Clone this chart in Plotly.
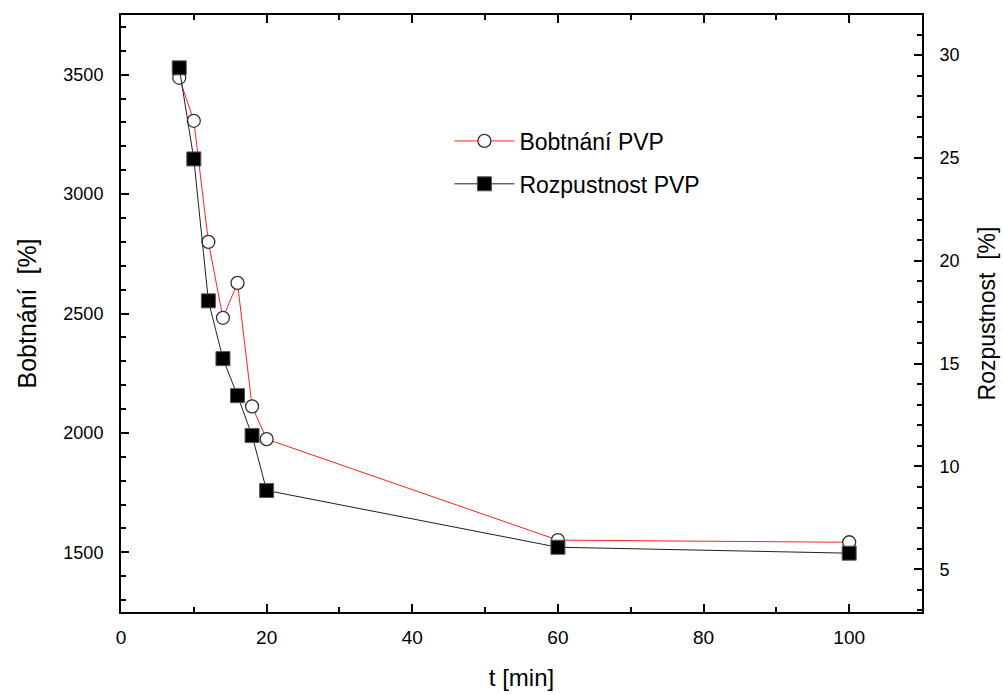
import plotly.graph_objects as go

t_min = [8, 10, 12, 14, 16, 18, 20, 60, 100]
bobtnani = [3487, 3307, 2800, 2482, 2628, 2111, 1974, 1551, 1542]
rozpustnost = [29.38, 24.95, 18.05, 15.24, 13.44, 11.5, 8.83, 6.07, 5.78]

x_ticks = [0, 20, 40, 60, 80, 100]
y_ticks = [1500, 2000, 2500, 3000, 3500]
y2_ticks = [5, 10, 15, 20, 25, 30]

FONT = "Arial, Liberation Sans, sans-serif"
NARROW = "Liberation Sans Narrow, Arial Narrow, Arial, sans-serif"

fig = go.Figure()
fig.add_trace(go.Scatter(
    x=t_min, y=bobtnani, name="Bobtnání PVP", mode="lines+markers",
    legendgroup="a",
    line=dict(color="#ff2020", width=1),
    marker=dict(symbol="circle", size=13, color="white",
                line=dict(color="#333333", width=1.3)),
    yaxis="y"))
fig.add_trace(go.Scatter(
    x=t_min, y=rozpustnost, name="Rozpustnost PVP", mode="lines+markers",
    legendgroup="b",
    line=dict(color="#222222", width=1),
    marker=dict(symbol="square", size=14, color="black",
                line=dict(color="#555555", width=1)),
    yaxis="y2"))

axis_common = dict(showline=True, linecolor="black", linewidth=2,
                   ticks="inside", tickcolor="black", tickwidth=2, ticklen=8,
                   showgrid=False, zeroline=False, automargin=False)

fig.update_layout(
    width=1003, height=695,
    margin=dict(l=121, r=81, t=15, b=83),
    paper_bgcolor="white", plot_bgcolor="white",
    showlegend=True,
    legend=dict(x=0.41, y=0.825, xanchor="left", yanchor="top",
                font=dict(family=FONT, size=23, color="black"),
                bgcolor="rgba(0,0,0,0)", itemwidth=60, tracegroupgap=10),
    xaxis=dict(range=[0, 110], tickvals=x_ticks, mirror="ticks",
               minor=dict(dtick=10, ticks="inside", ticklen=5, tickwidth=2, tickcolor="black"),
               tickfont=dict(family=NARROW, size=19, color="black"),
               ticklabelstandoff=7,
               title=dict(text="t [min]", font=dict(family=NARROW, size=24, color="black"),
                          standoff=22),
               **axis_common),
    yaxis=dict(range=[1250, 3750], tickvals=y_ticks,
               minor=dict(dtick=100, ticks="inside", ticklen=5, tickwidth=2, tickcolor="black"),
               tickfont=dict(family=FONT, size=18, color="black"),
               ticklabelstandoff=12,
               title=dict(text="Bobtnání  [%]", font=dict(family=FONT, size=25, color="black"),
                          standoff=20),
               **axis_common),
    yaxis2=dict(range=[2.92, 31.95], tickvals=y2_ticks, overlaying="y", side="right",
                minor=dict(dtick=1, ticks="inside", ticklen=5, tickwidth=2, tickcolor="black"),
                tickfont=dict(family=FONT, size=18, color="black"),
                ticklabelstandoff=12,
                title=dict(text="Rozpustnost  [%]", font=dict(family=FONT, size=23, color="black"),
                           standoff=20),
                **axis_common),
)

fig.write_html("out.html")
